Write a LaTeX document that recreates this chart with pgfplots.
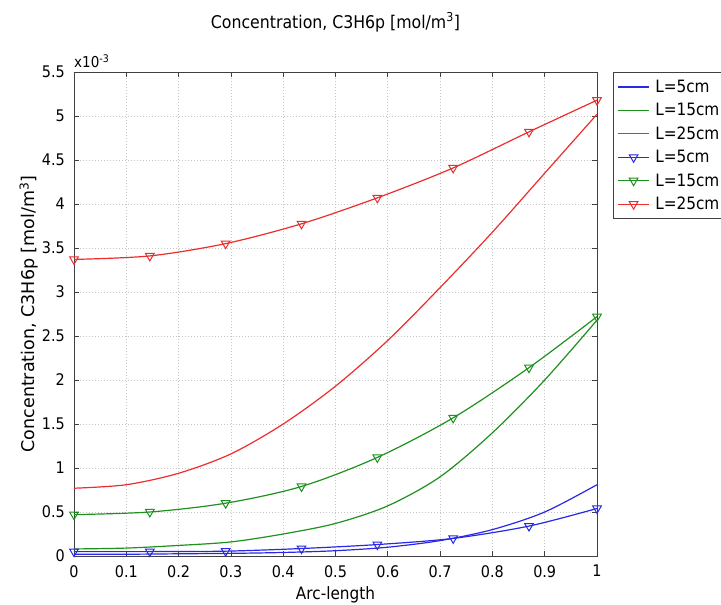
\documentclass[border=0pt]{standalone}
\usepackage{fontspec}
\setmainfont{DejaVu Sans Condensed}
\newfontfamily\widefont{DejaVu Sans}
\usepackage{pgfplots}
\pgfplotsset{compat=1.18}
\definecolor{cb}{RGB}{40,40,230}
\definecolor{cg}{RGB}{30,145,30}
\definecolor{cr}{RGB}{235,45,45}
\begin{document}
\begin{tikzpicture}[x=1pt,y=1pt]
\begin{axis}[
  scale only axis, width=523pt, height=484pt,
  at={(0,0)}, anchor=south west,
  xmin=0, xmax=1, ymin=0, ymax=5.5,
  xtick={0,0.1,...,1.0}, ytick={0,0.5,...,5.5},
  xticklabels={0,0.1,0.2,0.3,0.4,0.5,0.6,0.7,0.8,0.9,1},
  yticklabels={0,0.5,1,1.5,2,2.5,3,3.5,4,4.5,5,5.5},
  tick align=inside, major tick length=5pt,
  axis line style={black!75, line width=0.9pt},
  every tick/.style={black!75, line width=0.8pt},
  grid=major, grid style={gray!45, line width=0.7pt, dash pattern=on 1pt off 2pt},
  tick label style={font=\fontsize{16}{18}\selectfont},
  xticklabel style={anchor=north, inner sep=0pt, yshift=-9pt},
  yticklabel style={anchor=east, inner sep=0pt, xshift=-9pt},
  /pgf/number format/assume math mode=true,
  title={Concentration, C3H6p [mol/m\textsuperscript{3}]},
  title style={font=\fontsize{17.5}{20}\selectfont, at={(rel axis cs:0.5,1.0785)}, anchor=base},
  xlabel={Arc-length}, ylabel={Concentration, C3H6p [mol/m\textsuperscript{3}]},
  xlabel style={font=\fontsize{17}{20}\selectfont, at={(rel axis cs:0.5,-0.0909)}, anchor=base},
  ylabel style={font=\widefont\fontsize{17.5}{20}\selectfont, at={(rel axis cs:-0.0746,0.5)}, anchor=base},
  legend style={at={(rel axis cs:1.0306,1)}, anchor=north west, font=\fontsize{17}{20}\selectfont, draw=black!75, line width=0.9pt, inner xsep=4pt, inner ysep=6pt, row sep=6.5pt, nodes={inner sep=1.5pt}, /tikz/every odd column/.append style={column sep=4pt}},
  legend cell align=left,
  legend image code/.code={%
    \draw[#1, line width=1.3pt] (0pt,0pt) -- (31pt,0pt);
    \path[#1, line width=1pt] plot coordinates {(15.5pt,0pt)};},
  every axis plot/.append style={line width=1.2pt},
  clip=false,
]
\addplot[cb, smooth] coordinates {(0,0.02)(0.1,0.02)(0.2,0.025)(0.3,0.03)(0.4,0.04)(0.5,0.06)(0.6,0.1)(0.7,0.175)(0.8,0.3)(0.9,0.5)(1.0,0.81)};
\addlegendentry{L=5cm}
\addplot[cg, smooth] coordinates {(0,0.08)(0.1,0.09)(0.2,0.12)(0.3,0.16)(0.4,0.25)(0.5,0.37)(0.6,0.57)(0.7,0.9)(0.8,1.4)(0.9,2.0)(1.0,2.68)};
\addlegendentry{L=15cm}
\addplot[cr, smooth] coordinates {(0,0.77)(0.1,0.81)(0.2,0.94)(0.3,1.16)(0.4,1.5)(0.5,1.93)(0.6,2.45)(0.7,3.05)(0.8,3.68)(0.9,4.35)(1.0,5.02)};
\addlegendentry{L=25cm}
\addplot[cb, smooth, mark=triangle, mark size=5pt, mark options={rotate=180, solid, line width=1pt}] coordinates {(0,0.05)(0.145,0.05)(0.29,0.055)(0.435,0.085)(0.58,0.13)(0.725,0.2)(0.87,0.34)(1.0,0.54)};
\addlegendentry{L=5cm}
\addplot[cg, smooth, mark=triangle, mark size=5pt, mark options={rotate=180, solid, line width=1pt}] coordinates {(0,0.47)(0.145,0.50)(0.29,0.60)(0.435,0.79)(0.58,1.12)(0.725,1.57)(0.87,2.14)(1.0,2.72)};
\addlegendentry{L=15cm}
\addplot[cr, smooth, mark=triangle, mark size=5pt, mark options={rotate=180, solid, line width=1pt}] coordinates {(0,3.37)(0.145,3.41)(0.29,3.55)(0.435,3.775)(0.58,4.07)(0.725,4.41)(0.87,4.82)(1.0,5.18)};
\addlegendentry{L=25cm}
\node[anchor=base west, font=\fontsize{15}{17}\selectfont, inner sep=0pt] at ([yshift=4pt]rel axis cs:0,1) {x10\textsuperscript{-3}};
\end{axis}
\pgfresetboundingbox
\path[use as bounding box] (-74,-49) rectangle (647,556);
\end{tikzpicture}
\end{document}
